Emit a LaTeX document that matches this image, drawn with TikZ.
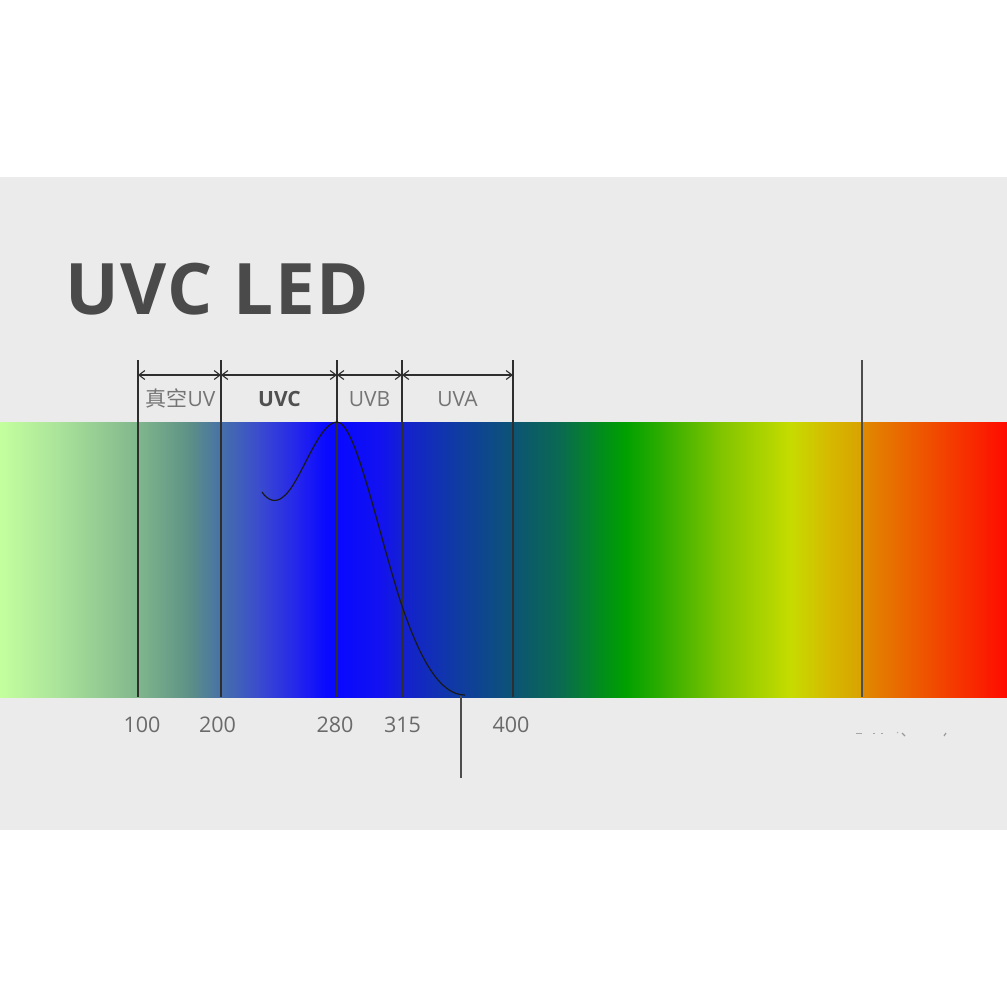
\documentclass[tikz,border=0pt]{standalone}
\usepackage{fontspec}
\setmainfont{Open Sans}
\newfontfamily\cjk{Noto Sans CJK SC}
\newfontfamily\titlefont[LetterSpace=2.5]{Open Sans}
\usetikzlibrary{arrows.meta}
\definecolor{panel}{HTML}{EBEBEB}
\definecolor{titlec}{HTML}{4A4A4A}
\definecolor{labc}{HTML}{747474}
\definecolor{boldc}{HTML}{505050}
\definecolor{numc}{HTML}{6A6A6A}
\definecolor{linec}{HTML}{2E2E2E}
\definecolor{s0}{HTML}{C4FF9E}
\definecolor{s1}{HTML}{A9E29A}
\definecolor{s2}{HTML}{80B68C}
\definecolor{s3}{HTML}{5C9086}
\definecolor{s4}{HTML}{4670A8}
\definecolor{s5}{HTML}{3A4ACF}
\definecolor{s6}{HTML}{2222EE}
\definecolor{s7}{HTML}{0A0AFF}
\definecolor{s8}{HTML}{0808FF}
\definecolor{s9}{HTML}{1212F0}
\definecolor{s10}{HTML}{1420D0}
\definecolor{s11}{HTML}{1038A8}
\definecolor{s12}{HTML}{0C5474}
\definecolor{s13}{HTML}{0A6A50}
\definecolor{s14}{HTML}{028C1C}
\definecolor{s15}{HTML}{00A000}
\definecolor{s16}{HTML}{34AE00}
\definecolor{s17}{HTML}{80C400}
\definecolor{s18}{HTML}{C6DC00}
\definecolor{s19}{HTML}{D6B800}
\definecolor{s20}{HTML}{D8A200}
\definecolor{s21}{HTML}{E08A00}
\definecolor{s22}{HTML}{F04E00}
\definecolor{s23}{HTML}{FF0A00}
\tikzset{
  divider/.style={draw=linec, line width=1.1pt},
  marker/.style={draw=linec!85!white, line width=1.5pt},
  span/.style={draw=linec, line width=1.1pt, {Straight Barb[length=6pt,width=9pt]}-{Straight Barb[length=6pt,width=9pt]}},
  lab/.style={inner sep=0pt, anchor=base, text=labc, font=\fontsize{21}{21}\selectfont},
  num/.style={inner sep=0pt, anchor=base, text=numc, font=\fontsize{21.5}{21.5}\selectfont},
}
\begin{document}
\begin{tikzpicture}[x=1pt,y=-1pt]
\useasboundingbox (0,0) rectangle (1007,1007);
\fill[white] (0,0) rectangle (1007,1007);
\fill[panel] (0,177) rectangle (1007,830);
% spectrum band
\foreach \xa/\ca/\xb/\cb in {0/s0/60/s1, 60/s1/138/s2, 138/s2/190/s3, 190/s3/221/s4, 221/s4/260/s5, 260/s5/300/s6, 300/s6/325/s7, 325/s7/337/s8, 337/s8/380/s9, 380/s9/402/s10, 402/s10/450/s11, 450/s11/513/s12, 513/s12/560/s13, 560/s13/600/s14, 600/s14/625/s15, 625/s15/665/s16, 665/s16/720/s17, 720/s17/790/s18, 790/s18/830/s19, 830/s19/862/s20, 862/s21/930/s22, 930/s22/1007/s23}{
  \shade[left color=\ca, right color=\cb] (\xa,422) rectangle (\xb+0.7,697);
}
% title
\node (title) [inner sep=0pt, anchor=base west, text=titlec, font=\titlefont\fontsize{71}{71}\selectfont\bfseries] at (65,314) {UVC LED};
% dividers
\coordinate (t100) at (138,360); \coordinate (b100) at (138,697);
\coordinate (t200) at (221,360); \coordinate (b200) at (221,697);
\coordinate (t280) at (337,360); \coordinate (b280) at (337,697);
\coordinate (t315) at (402,360); \coordinate (b315) at (402,697);
\coordinate (t400) at (513,360); \coordinate (b400) at (513,697);
\coordinate (tvis) at (862,360); \coordinate (bvis) at (862,697);
\coordinate (mtop) at (461,696); \coordinate (mbot) at (461,778);
\foreach \n in {100,200,280,315,400}{\draw[divider] (t\n) -- (b\n);}
\draw[marker] (tvis) -- (bvis);
\draw[marker] (mtop) -- (mbot);
% spans
\coordinate (a100) at (138,375); \coordinate (a200) at (221,375);
\coordinate (a280) at (337,375); \coordinate (a315) at (402,375);
\coordinate (a400) at (513,375);
\draw[span] (a100) -- (a200);
\draw[span] (a200) -- (a280);
\draw[span] (a280) -- (a315);
\draw[span] (a315) -- (a400);
% band labels
\node (lvac) [lab] at (180.5,406.5) {{\cjk 真空}UV};
\node (luvc) [lab, text=boldc, font=\fontsize{21}{21}\selectfont\bfseries] at (279.5,406.5) {UVC};
\node (luvb) [lab] at (369.5,406.5) {UVB};
\node (luva) [lab] at (457.5,406.5) {UVA};
% numbers
\node (n100) [num] at (142,732.3) {100};
\node (n200) [num] at (217.5,732.3) {200};
\node (n280) [num] at (335,732.3) {280};
\node (n315) [num] at (402.5,732.3) {315};
\node (n400) [num] at (511,732.3) {400};
% emission curve
\draw[line width=1.2pt, draw=black!90] (262,492) .. controls (268,501) and (276,503) .. (283,497)
  .. controls (300,485) and (318,422) .. (337,422)
  .. controls (355,422) and (375,520) .. (400,600)
  .. controls (420,660) and (440,695) .. (465,695);
% faint marks
\draw[gray!70, line width=0.8pt] (856,733) -- (862,733) (873,733) -- (875,733) (881,733) -- (883,733);
\draw[gray!60, line width=0.8pt] (897,732) -- (898,733);
\draw[gray!80, line width=1.2pt] (902,733) -- (905,736);
\draw[gray!80, line width=1.2pt] (944,736) -- (946,733);
\end{tikzpicture}
\end{document}
